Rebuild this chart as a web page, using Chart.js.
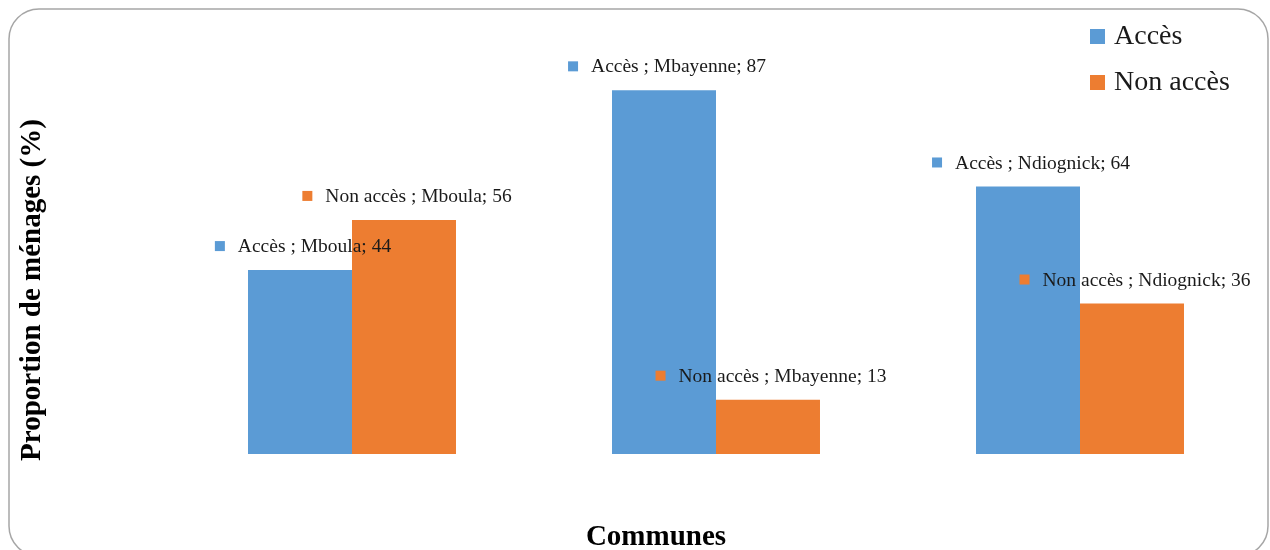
<!DOCTYPE html>
<html>
<head>
<meta charset="utf-8">
<script src="https://cdn.jsdelivr.net/npm/chart.js@4"></script>
<style>
html,body{margin:0;padding:0;background:#fff;}
#wrap{width:1270px;height:550px;position:relative;}
</style>
</head>
<body>
<div id="wrap"><canvas id="c" width="1270" height="550"></canvas></div>
<script>
const categories = ["Mboula", "Mbayenne", "Ndiognick"];
const seriesNames = ["Accès", "Non accès"];
const acces = [44, 87, 64];
const nonAcces = [56, 13, 36];
const colors = ["#5B9BD5", "#ED7D31"];
const xTitle = "Communes";
const yTitle = "Proportion de ménages (%)";

const serif = "'Liberation Serif', 'DejaVu Serif', serif";

const decor = {
  id: 'decor',
  beforeDraw(chart) {
    const ctx = chart.ctx;
    ctx.save();
    ctx.fillStyle = '#fff';
    ctx.fillRect(0, 0, chart.width, chart.height);
    ctx.strokeStyle = '#a6a6a6';
    ctx.lineWidth = 1.5;
    const x0 = 9, y0 = 9, x1 = 1268, y1 = 556, r = 30;
    ctx.beginPath();
    ctx.moveTo(x0 + r, y0);
    ctx.lineTo(x1 - r, y0);
    ctx.arcTo(x1, y0, x1, y0 + r, r);
    ctx.lineTo(x1, y1 - r);
    ctx.arcTo(x1, y1, x1 - r, y1, r);
    ctx.lineTo(x0 + r, y1);
    ctx.arcTo(x0, y1, x0, y1 - r, r);
    ctx.lineTo(x0, y0 + r);
    ctx.arcTo(x0, y0, x0 + r, y0, r);
    ctx.closePath();
    ctx.stroke();
    ctx.restore();
  },
  afterDatasetsDraw(chart) {
    const ctx = chart.ctx;
    ctx.save();
    ctx.font = "19.5px " + serif;
    ctx.textBaseline = 'middle';
    chart.data.datasets.forEach((ds, i) => {
      const meta = chart.getDatasetMeta(i);
      meta.data.forEach((bar, j) => {
        const txt = ds.label + " ; " + chart.data.labels[j] + "; " + ds.data[j];
        const tw = ctx.measureText(txt).width;
        const total = 23 + tw;
        const cx = bar.x + 3;
        const cy = bar.y - 24;
        const left = cx - total / 2;
        ctx.fillStyle = ds.backgroundColor;
        ctx.fillRect(left, cy - 5, 10, 10);
        ctx.fillStyle = '#1a1a1a';
        ctx.textAlign = 'left';
        ctx.fillText(txt, left + 23, cy + 1);
      });
    });
    ctx.restore();
  },
  afterDraw(chart) {
    const ctx = chart.ctx;
    ctx.save();
    // legend
    ctx.font = "28px " + serif;
    ctx.textBaseline = 'middle';
    ctx.textAlign = 'left';
    chart.data.datasets.forEach((ds, i) => {
      const y = 36 + i * 46;
      ctx.fillStyle = ds.backgroundColor;
      ctx.fillRect(1090, y - 7, 15, 15);
      ctx.fillStyle = '#1a1a1a';
      ctx.fillText(ds.label, 1114, y + 1);
    });
    // axis titles
    ctx.fillStyle = '#000';
    ctx.font = "bold 29px " + serif;
    ctx.textAlign = 'center';
    ctx.textBaseline = 'middle';
    ctx.fillText(xTitle, 656, 538);
    ctx.translate(33, 290);
    ctx.rotate(-Math.PI / 2);
    ctx.fillText(yTitle, 0, 0);
    ctx.restore();
  }
};

new Chart(document.getElementById('c'), {
  type: 'bar',
  data: {
    labels: categories,
    datasets: [
      { label: seriesNames[0], data: acces, backgroundColor: colors[0], borderWidth: 0 },
      { label: seriesNames[1], data: nonAcces, backgroundColor: colors[1], borderWidth: 0 }
    ]
  },
  options: {
    responsive: false,
    animation: false,
    devicePixelRatio: 1,
    layout: { padding: { left: 170, right: 8, top: 36, bottom: 96 } },
    datasets: { bar: { barPercentage: 1, categoryPercentage: 0.5714 } },
    scales: {
      x: { display: false },
      y: { display: false, min: 0, max: 100 }
    },
    plugins: { legend: { display: false }, tooltip: { enabled: false }, title: { display: false } }
  },
  plugins: [decor]
});
</script>
</body>
</html>
